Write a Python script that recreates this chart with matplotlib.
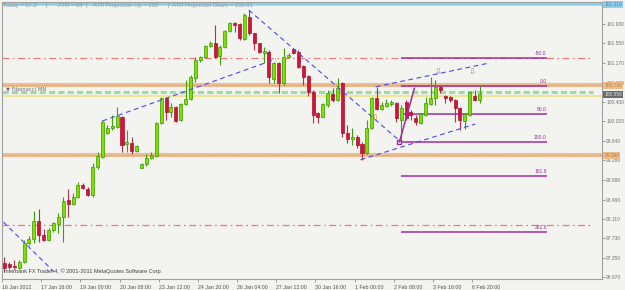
import matplotlib
matplotlib.use("Agg")
import matplotlib.pyplot as plt
import numpy as np

plt.rcParams["font.family"] = ["Liberation Sans", "DejaVu Sans"]
plt.rcParams["lines.scale_dashes"] = False

# H4 candles
opens = [97.25, 97.23, 97.19, 97.15, 97.27, 97.64, 97.72, 98.07, 97.80, 97.70,
         97.90, 98.01, 98.15, 98.48, 98.40, 98.54, 98.78, 98.70, 98.58, 99.13,
         99.33, 99.79, 99.89, 99.91, 100.11, 99.58, 99.60, 99.44, 99.11, 99.19,
         99.31, 99.35, 99.99, 100.48, 100.20, 100.30, 100.05, 100.36, 100.46, 100.87,
         101.22, 101.28, 101.50, 101.56, 101.30, 101.48, 101.79, 101.95, 101.93, 101.63,
         102.06, 101.75, 101.56, 101.36, 101.38, 100.85, 101.16, 100.77, 101.28, 101.44,
         101.38, 101.11, 100.91, 100.60, 100.19, 100.11, 100.34, 100.56, 100.44, 100.77,
         99.79, 99.68, 99.72, 99.58, 99.40, 99.89, 100.48, 100.26, 100.32, 100.36,
         100.38, 100.05, 100.40, 100.20, 100.09, 99.99, 100.15, 100.36, 100.48, 100.70,
         100.52, 100.50, 100.44, 100.28, 100.03, 100.15, 100.52, 100.44]
highs = [97.37, 97.27, 97.31, 97.31, 97.70, 97.78, 98.27, 98.31, 97.92, 97.93,
         98.05, 98.23, 98.54, 98.70, 98.62, 98.84, 98.81, 98.74, 99.21, 99.42,
         100.05, 99.95, 100.15, 100.30, 100.13, 99.85, 99.72, 99.56, 99.21, 99.38,
         99.42, 100.01, 100.50, 100.50, 100.38, 100.32, 100.38, 100.83, 100.93, 101.28,
         101.30, 101.52, 101.59, 101.91, 101.52, 101.81, 101.97, 101.97, 101.95, 102.14,
         102.20, 101.75, 101.56, 101.48, 101.42, 101.18, 101.18, 101.46, 101.36, 101.46,
         101.42, 101.13, 100.93, 100.64, 100.21, 100.38, 100.64, 100.68, 100.87, 100.79,
         99.95, 99.89, 99.76, 99.62, 100.05, 100.50, 100.70, 100.40, 100.46, 100.44,
         100.40, 100.34, 100.44, 100.24, 100.15, 100.19, 100.50, 100.89, 100.83, 100.73,
         100.54, 100.52, 100.46, 100.30, 100.19, 100.62, 100.64, 100.72]
lows = [97.07, 97.13, 97.13, 97.13, 97.25, 97.60, 97.64, 97.66, 97.68, 97.68,
        97.86, 97.84, 97.66, 98.15, 98.38, 98.52, 98.70, 98.56, 98.54, 99.09,
        99.31, 99.78, 99.85, 99.89, 99.42, 99.42, 99.38, 99.42, 99.10, 99.15,
        99.29, 99.33, 99.97, 100.05, 100.11, 100.01, 100.03, 100.34, 100.44, 100.79,
        101.18, 101.26, 101.48, 101.26, 101.13, 101.46, 101.77, 101.77, 101.61, 101.61,
        101.71, 101.42, 101.36, 101.16, 100.77, 100.77, 100.58, 100.73, 101.26, 101.34,
        101.07, 100.73, 100.52, 99.99, 99.99, 100.11, 100.30, 100.40, 100.42, 99.72,
        99.60, 99.56, 99.50, 99.27, 99.38, 99.87, 100.24, 100.24, 100.30, 100.32,
        100.01, 99.62, 100.05, 100.05, 99.95, 99.97, 100.13, 100.34, 100.34, 100.58,
        100.38, 100.40, 100.01, 99.85, 99.87, 100.13, 100.42, 100.38]
closes = [97.15, 97.17, 97.18, 97.27, 97.64, 97.72, 98.07, 97.80, 97.70, 97.90,
          98.03, 98.15, 98.46, 98.40, 98.54, 98.78, 98.72, 98.58, 99.13, 99.35,
          100.01, 99.89, 99.93, 100.13, 99.56, 99.62, 99.44, 99.54, 99.19, 99.31,
          99.36, 99.99, 100.48, 100.20, 100.30, 100.03, 100.36, 100.46, 100.89, 101.22,
          101.28, 101.50, 101.56, 101.28, 101.48, 101.79, 101.95, 101.91, 101.65, 102.10,
          101.75, 101.56, 101.38, 101.40, 100.89, 101.16, 100.77, 101.28, 101.32, 101.36,
          101.09, 100.89, 100.60, 100.15, 100.11, 100.36, 100.58, 100.44, 100.68, 99.79,
          99.68, 99.72, 99.56, 99.40, 99.89, 100.48, 100.26, 100.34, 100.38, 100.40,
          100.09, 100.28, 100.09, 100.15, 100.01, 100.17, 100.38, 100.48, 100.70, 100.64,
          100.48, 100.44, 100.28, 100.05, 100.17, 100.60, 100.44, 100.56]

date_labels = ["16 Jan 2012", "17 Jan 16:00", "19 Jan 00:00", "20 Jan 08:00",
               "23 Jan 12:00", "24 Jan 20:00", "26 Jan 04:00", "27 Jan 12:00",
               "30 Jan 16:00", "1 Feb 00:00", "2 Feb 08:00", "3 Feb 16:00",
               "6 Feb 20:00"]
price_ticks = [101.930, 101.550, 101.170, 100.780, 100.400, 100.020, 99.640,
               99.260, 98.880, 98.490, 98.110, 97.730, 97.350, 96.970]

atr_line = 102.310
current_price = 100.556
sr_levels = [100.73, 99.36]          # orange zones
pivot_levels = [101.27, 97.99]       # red dash-dot
green_level = 100.60
fib_low, fib_high = 99.62, 100.71
fib_levels = [-50.0, 0.0, 50.0, 100.0, 161.8, 261.8]

# trend lines as (bar, price) pairs
trend_lines = [
    [(-0.2, 98.05), (10.2, 97.07)],
    [(20.0, 100.03), (55.4, 101.24)],
    [(49.9, 102.20), (80.7, 99.64)],
    [(72.7, 99.27), (96.1, 99.97)],
    [(75.8, 100.70), (98.8, 101.16)],
]
fractal_bars = [75.6, 88.5, 95.5]
fractal_prices = [100.09, 100.99, 100.99]

W, H = 625, 290
BG = "#f3f3f0"
fig = plt.figure(figsize=(W / 100, H / 100), dpi=100, facecolor=BG)
ax = fig.add_axes([2 / W, 11 / H, 600 / W, 277 / H], facecolor=BG)
ax.set_xlim(-0.2, 122.0)
ax.set_ylim(96.937, 102.358)

o, h, l, c = (np.array(v) for v in (opens, highs, lows, closes))
x = np.arange(len(o))
up = c >= o
dn = ~up
lo = np.minimum(o, c)
ht = np.maximum(np.abs(c - o), 0.015)
ax.vlines(x[up], l[up], h[up], color="#3f9f10", lw=0.8, zorder=3)
ax.vlines(x[dn], l[dn], h[dn], color="#b8304a", lw=0.8, zorder=3)
ax.bar(x[up], ht[up], bottom=lo[up], width=0.62, color="#7fe000",
       edgecolor="#3a9a00", lw=0.5, zorder=4)
ax.bar(x[dn], ht[dn], bottom=lo[dn], width=0.62, color="#d3143a",
       edgecolor="#a8102c", lw=0.5, zorder=4)

# horizontal levels
ax.axhline(atr_line, color="#8ccfee", lw=2.6, zorder=2)
for lvl in sr_levels:
    ax.axhline(lvl, color="#ecbd90", lw=3.0, zorder=1)
    ax.axhline(lvl, color="#d79a64", lw=0.6, ls=(0, (1, 1)), zorder=1)
for lvl in pivot_levels:
    ax.axhline(lvl, xmax=0.985, color="#f07a7a", lw=0.9,
               ls=(0, (5, 2.5, 1.2, 2.5)), zorder=1)
ax.axhline(green_level, xmax=0.985, color="#9bde9b", lw=2.2,
           ls=(0, (4.5, 2.2)), zorder=1)
ax.axhline(current_price - 0.03, color="#efe27a", lw=1.1, zorder=1)

# fibonacci
fib_col = "#a02ca0"
for lvl in fib_levels:
    p = fib_high - lvl / 100 * (fib_high - fib_low)
    ax.hlines(p, 80.9, 110.8, color=fib_col, lw=1.1, zorder=2)
    ax.text(110.7, p + 0.04, f"{lvl:.1f}", color=fib_col, fontsize=3.6,
            ha="right", va="bottom", zorder=5)
ax.plot([80.65, 83.7], [fib_low, fib_high - 0.04], color=fib_col, lw=1.1, zorder=5)
ax.plot([80.65], [fib_low], marker="s", ms=2.2, mfc="none", mec=fib_col, zorder=5)

for (x0, y0), (x1, y1) in trend_lines:
    ax.plot([x0, x1], [y0, y1], color="#4a4af5", lw=0.8, ls=(0, (3.5, 2.5)), zorder=5)

for fx, fy in zip(fractal_bars, fractal_prices):
    ax.text(fx, fy, "\u21e9", color="#b08850", fontsize=6, ha="center",
            va="center", family=["DejaVu Sans"], zorder=6)

# axes styling
for s in ("left", "top", "right", "bottom"):
    ax.spines[s].set_color("#a0a0a0")
    ax.spines[s].set_linewidth(0.8)
ax.yaxis.tick_right()
ax.set_yticks(price_ticks)
ax.set_yticklabels([f"{v:.3f}" for v in price_ticks])
ax.tick_params(axis="y", length=2, width=0.6, color="#909090", labelsize=3.5,
               labelcolor="#707070", pad=1.0)
ax.set_xticks(np.arange(len(date_labels)) * 8 - 0.5)
ax.set_xticklabels(date_labels, ha="left")
ax.tick_params(axis="x", length=2.5, width=0.6, color="#909090", labelsize=3.8,
               labelcolor="#505050", pad=1.5)

# price labels on the right
def right_label(price, text, bg, fg):
    ax.text(1.004, price, text, transform=ax.get_yaxis_transform(), fontsize=3.5,
            color=fg, va="center", ha="left", zorder=7,
            bbox=dict(boxstyle="square,pad=0.2", fc=bg, ec="none"))

right_label(atr_line, f"{atr_line:.3f}", "#8ccfee", "#6a7a86")
right_label(sr_levels[0], f"{sr_levels[0]:.3f}", "#efbb88", "#b08050")
right_label(sr_levels[1], f"{sr_levels[1]:.3f}", "#efbb88", "#b08050")
right_label(current_price, f"{current_price:.3f}", "#6a6a6a", "#e0e0e0")

# header text
hdr = [(3, "Today = 67.2"), (45, "|"), (58, "ATR = 88"), (86, "|"),
       (93, "ATR Projection Up = 102"), (167, "|"), (172, "ATR Projection Down = 100.91")]
for px, t in hdr:
    fig.text(px / W, 1 - 5.5 / H, t, fontsize=4.2, color="#8a9aa4", va="center")
fig.text(6 / W, 1 - 89 / H, "\u25bc Fibonacci MN", fontsize=3.8, color="#707070",
         va="center", family=["DejaVu Sans"])
fig.text(4 / W, 1 - 271 / H, "Interbank FX Trader 4, \u00a9 2001-2011 MetaQuotes Software Corp.",
         fontsize=4.0, color="#404040", va="center")

fig.savefig("out.png", dpi=100, facecolor=BG)
